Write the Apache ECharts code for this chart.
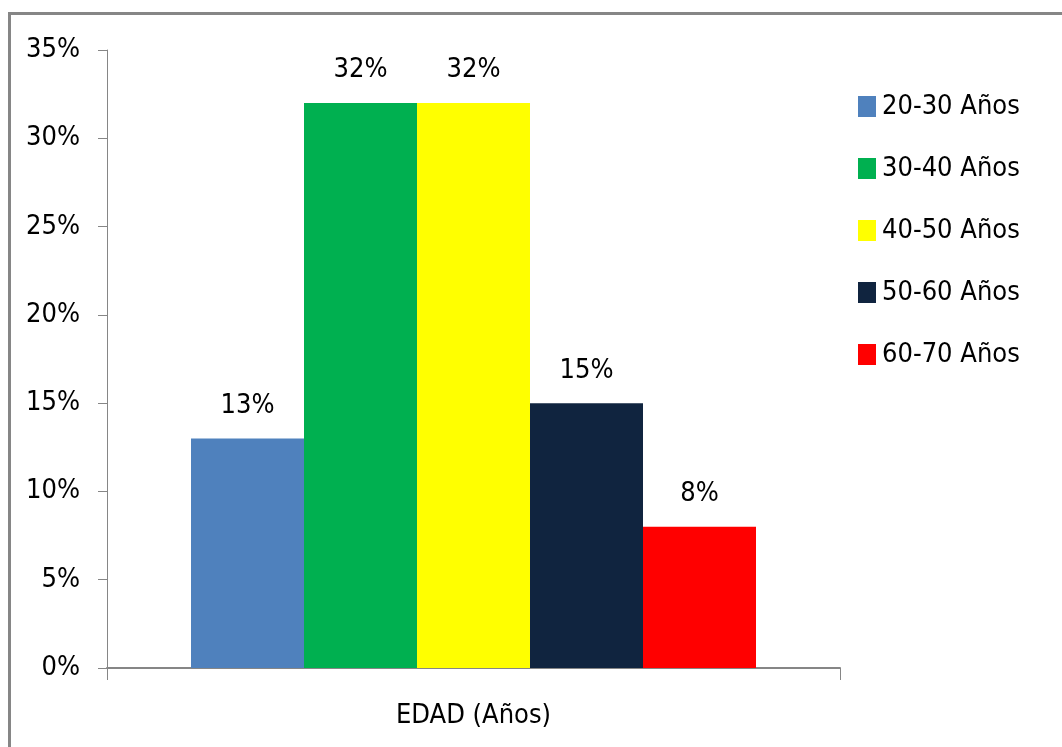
<!DOCTYPE html>
<html>
<head>
<meta charset="utf-8">
<script src="https://cdn.jsdelivr.net/npm/echarts@6/dist/echarts.min.js"></script>
<style>
  html, body { margin: 0; padding: 0; background: #fff; }
  #chart { width: 1062px; height: 747px; }
</style>
</head>
<body>
<div id="chart"></div>
<script>
// Age-group distribution (percent of respondents)
const category = ['EDAD (Años)'];
const groups = ['20-30 Años', '30-40 Años', '40-50 Años', '50-60 Años', '60-70 Años'];
const values = [13, 32, 32, 15, 8];
const colors = ['#4F81BD', '#00B050', '#FFFF00', '#10243F', '#FF0000'];
const yTicks = { min: 0, max: 35, step: 5 };

const FONT = '"DejaVu Sans Condensed", "Liberation Sans", sans-serif';
const FONT_SIZE = 27;
const AXIS_GRAY = '#868686';

const chart = echarts.init(document.getElementById('chart'), null, { renderer: 'canvas' });

const series = groups.map((name, i) => ({
  name: name,
  type: 'bar',
  data: [values[i]],
  barWidth: 113,
  barGap: '0%',
  itemStyle: { color: colors[i] },
  label: {
    show: true,
    position: 'top',
    distance: 19,
    formatter: p => p.value + '%',
    fontFamily: FONT,
    fontSize: FONT_SIZE,
    color: '#000'
  }
}));

chart.setOption({
  animation: false,
  backgroundColor: '#fff',
  graphic: [{
    type: 'rect',
    shape: { x: 9.5, y: 13.5, width: 1200, height: 900 },
    style: { fill: 'none', stroke: AXIS_GRAY, lineWidth: 3 },
    silent: true
  }],
  grid: { left: 107, right: 222, top: 50, bottom: 79, containLabel: false },
  legend: {
    orient: 'vertical',
    left: 858,
    top: 93,
    padding: 0,
    icon: 'rect',
    itemWidth: 18,
    itemHeight: 21,
    itemGap: 35,
    textStyle: { fontFamily: FONT, fontSize: FONT_SIZE, color: '#000', padding: [0, 0, 0, 1] },
    data: groups
  },
  xAxis: {
    type: 'category',
    data: category,
    axisLine: { show: true, lineStyle: { color: AXIS_GRAY, width: 2 } },
    axisTick: { show: true, length: 12, lineStyle: { color: AXIS_GRAY, width: 1 } },
    axisLabel: { margin: 34, fontFamily: FONT, fontSize: FONT_SIZE, color: '#000' }
  },
  yAxis: {
    type: 'value',
    min: yTicks.min,
    max: yTicks.max,
    interval: yTicks.step,
    axisLine: { show: true, lineStyle: { color: AXIS_GRAY, width: 1 } },
    axisTick: { show: true, length: 9, lineStyle: { color: AXIS_GRAY, width: 1 } },
    splitLine: { show: false },
    axisLabel: { margin: 27, formatter: v => v + '%', fontFamily: FONT, fontSize: FONT_SIZE, color: '#000' }
  },
  series: series
});
</script>
</body>
</html>
